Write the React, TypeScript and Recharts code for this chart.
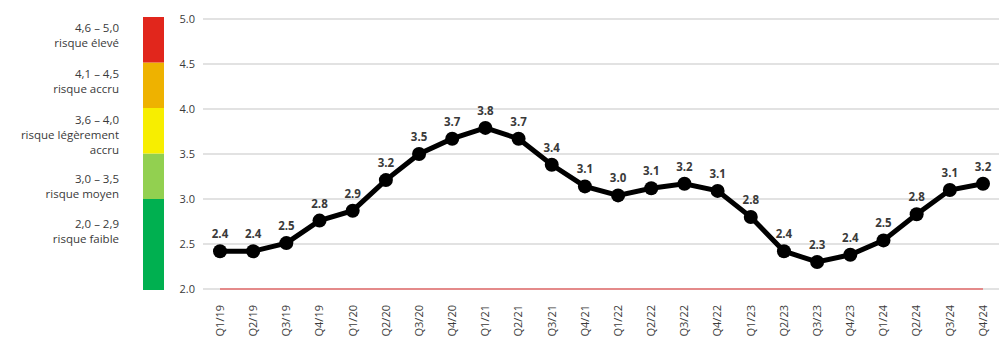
import React from "react";
import {
  LineChart,
  Line,
  XAxis,
  YAxis,
  CartesianGrid,
  LabelList,
  ComposedChart,
  ReferenceArea,
} from "recharts";

const quarters = [
  "Q1/19", "Q2/19", "Q3/19", "Q4/19",
  "Q1/20", "Q2/20", "Q3/20", "Q4/20",
  "Q1/21", "Q2/21", "Q3/21", "Q4/21",
  "Q1/22", "Q2/22", "Q3/22", "Q4/22",
  "Q1/23", "Q2/23", "Q3/23", "Q4/23",
  "Q1/24", "Q2/24", "Q3/24", "Q4/24",
];

const riskIndex = [
  2.42, 2.42, 2.51, 2.76,
  2.87, 3.21, 3.5, 3.67,
  3.79, 3.67, 3.38, 3.14,
  3.04, 3.12, 3.17, 3.09,
  2.8, 2.42, 2.3, 2.38,
  2.54, 2.83, 3.1, 3.17,
];

const baseline = quarters.map(() => 2.0);

const yTicks = [2.0, 2.5, 3.0, 3.5, 4.0, 4.5, 5.0];

// risk bands on the left colour bar
const bandLow = [2.0, 3.0, 3.5, 4.0, 4.5];
const bandHigh = [3.0, 3.5, 4.0, 4.5, 5.0];
const bandColors = ["#00b050", "#92d050", "#f7ee00", "#eeb200", "#e1261c"];
const bandRange = ["2,0 – 2,9", "3,0 – 3,5", "3,6 – 4,0", "4,1 – 4,5", "4,6 – 5,0"];
const bandName = ["risque faible", "risque moyen", "risque légèrement\naccru", "risque accru", "risque élevé"];
const bandTextTop = [216, 171, 112, 66, 20];

const FONT = "'Open Sans', 'Noto Sans', sans-serif";
const TEXT = "#3a3a3a";

const data = quarters.map((q, i) => ({
  quarter: q,
  value: riskIndex[i],
  base: baseline[i],
}));

const bandData = bandLow.map((low, i) => ({ i, low, high: bandHigh[i] }));

function QuarterTick(props: any) {
  const { x, y, payload } = props;
  return (
    <text
      x={x}
      y={y + 8}
      transform={`rotate(-90, ${x}, ${y + 8})`}
      textAnchor="end"
      dy="0.35em"
      fontSize={11}
      fontFamily={FONT}
      fill={TEXT}
    >
      {payload.value}
    </text>
  );
}

export default function App() {
  return (
    <div
      style={{
        position: "absolute",
        left: 0,
        top: 0,
        width: 1007,
        height: 351,
        background: "#fff",
        fontFamily: FONT,
      }}
    >
      {bandRange.map((r, i) => (
        <div
          key={r}
          style={{
            position: "absolute",
            right: 1007 - 119,
            top: bandTextTop[i],
            textAlign: "right",
            fontSize: 11.5,
            lineHeight: "15px",
            color: TEXT,
            whiteSpace: "pre",
          }}
        >
          {r + "\n" + bandName[i]}
        </div>
      ))}

      <div style={{ position: "absolute", left: 143, top: 0 }}>
        <ComposedChart
          width={21}
          height={351}
          data={bandData}
          margin={{ top: 17, right: 0, bottom: 61, left: 0 }}
        >
          <XAxis dataKey="i" hide />
          <YAxis domain={[2, 5]} allowDataOverflow hide />
          <Line
            dataKey="high"
            stroke="none"
            dot={false}
            isAnimationActive={false}
          />
          {bandLow.map((low, i) => (
            <ReferenceArea
              key={i}
              y1={low}
              y2={bandHigh[i]}
              fill={bandColors[i]}
              fillOpacity={1}
              stroke="none"
            />
          ))}
        </ComposedChart>
      </div>

      <div style={{ position: "absolute", left: 0, top: 0 }}>
        <LineChart
          width={1007}
          height={351}
          data={data}
          margin={{ top: 19, right: 8, bottom: 0, left: 0 }}
        >
          <CartesianGrid vertical={false} stroke="#d9d9d9" strokeWidth={1.5} />
          <XAxis
            dataKey="quarter"
            height={62}
            interval={0}
            tickLine={false}
            axisLine={false}
            padding={{ left: 17, right: 16 }}
            tick={<QuarterTick />}
          />
          <YAxis
            width={203}
            domain={[2, 5]}
            ticks={yTicks}
            tickFormatter={(v: number) => v.toFixed(1)}
            tickLine={false}
            axisLine={false}
            tickSize={0}
            tickMargin={8}
            tick={{ fontSize: 11, fontFamily: FONT, fill: TEXT }}
          />
          <Line
            dataKey="base"
            stroke="#e46c6c"
            strokeWidth={1.5}
            dot={false}
            isAnimationActive={false}
          />
          <Line
            dataKey="value"
            stroke="#000"
            strokeWidth={5}
            dot={{ r: 7, fill: "#000", stroke: "#000", strokeWidth: 0 }}
            isAnimationActive={false}
          >
            <LabelList
              dataKey="value"
              position="top"
              offset={13}
              formatter={(v: any) => Number(v).toFixed(1)}
              style={{ fontSize: 11.5, fontWeight: 700, fontFamily: FONT, fill: TEXT }}
            />
          </Line>
        </LineChart>
      </div>
    </div>
  );
}
